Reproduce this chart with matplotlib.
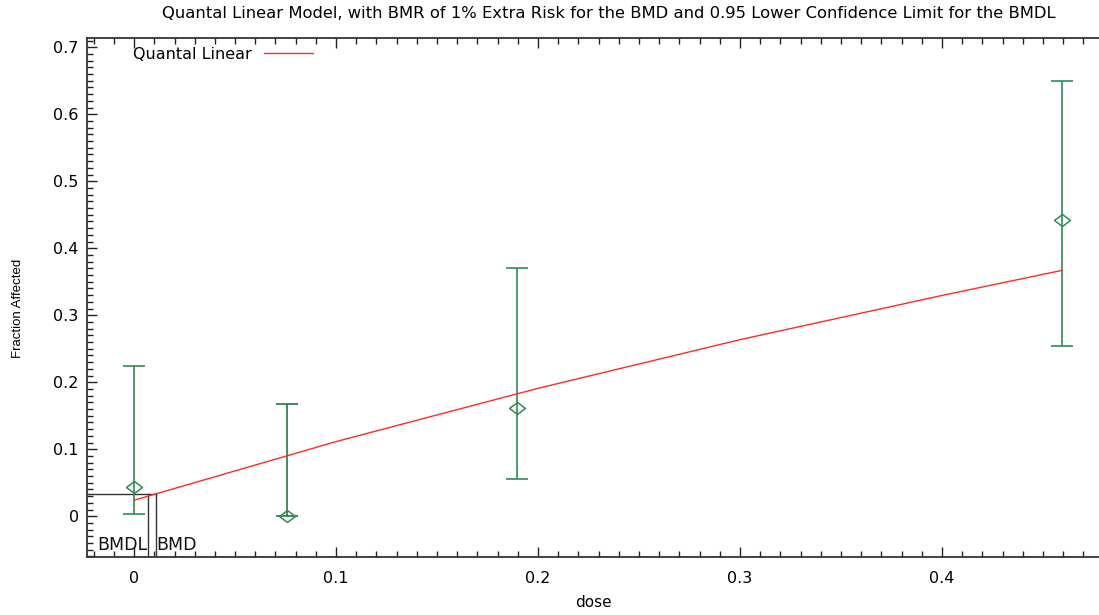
import matplotlib
matplotlib.use("Agg")
import matplotlib.pyplot as plt
from matplotlib.ticker import MultipleLocator, FixedLocator, FuncFormatter

doses = [0.0, 0.0757, 0.1895, 0.4594]
frac_affected = [0.043, 0.0, 0.162, 0.442]
ci_lower = [0.004, 0.0, 0.055, 0.254]
ci_upper = [0.225, 0.168, 0.371, 0.650]

# Fitted quantal linear model curve (read values)
model_dose = [0.0, 0.1, 0.2, 0.3, 0.4, 0.4594]
model_frac = [0.024, 0.1115, 0.191, 0.2636, 0.3296, 0.367]

# Benchmark dose markers
bmr_level = 0.034
bmd = 0.0107
bmdl = 0.0069

xticks = [0, 0.1, 0.2, 0.3, 0.4]
yticks = [0, 0.1, 0.2, 0.3, 0.4, 0.5, 0.6, 0.7]

fig = plt.figure(figsize=(10.99, 6.15), dpi=100)
ax = fig.add_axes([0.0792, 0.0935, 0.9208, 0.8455])
xmin, xmax = -0.0233, 0.4777
ymin, ymax = -0.0615, 0.7145
ax.set_xlim(xmin, xmax)
ax.set_ylim(ymin, ymax)

green = "#2e8b57"
dark_green = "#1c7a40"

# error bars
for i, d in enumerate(doses):
    col = dark_green if i == 1 else green
    ax.errorbar([d], [frac_affected[i]],
                yerr=[[max(frac_affected[i] - ci_lower[i], 0)], [ci_upper[i] - frac_affected[i]]],
                fmt="none", ecolor=col, elinewidth=1.2, capsize=8, capthick=1.2, zorder=3)
wide_diamond = [(-1, 0), (0, 0.75), (1, 0), (0, -0.75), (-1, 0)]
ax.plot(doses, frac_affected, linestyle="none", marker=wide_diamond, markersize=11.5,
        markerfacecolor="none", markeredgecolor=green, markeredgewidth=1.1, zorder=4)

# model line
ax.plot(model_dose, model_frac, color="#ff2a2a", linewidth=1.0, label="Quantal Linear", zorder=5)

# BMD / BMDL lines
bmd_col = "#333333"
ax.plot([xmin, bmd], [bmr_level, bmr_level], color=bmd_col, linewidth=1.0, zorder=2)
ax.plot([bmd, bmd], [ymin, bmr_level], color=bmd_col, linewidth=1.0, zorder=2)
ax.plot([bmdl, bmdl], [ymin, bmr_level], color=bmd_col, linewidth=1.0, zorder=2)
ax.text(bmdl - 0.0002, ymin + 0.0045, "BMDL", ha="right", va="bottom", fontsize=12.5, color="#111111")
ax.text(bmd + 0.0003, ymin + 0.0045, "BMD", ha="left", va="bottom", fontsize=12.5, color="#111111")

# ticks
ax.xaxis.set_major_locator(FixedLocator(xticks))
ax.yaxis.set_major_locator(FixedLocator(yticks))
ax.xaxis.set_minor_locator(MultipleLocator(0.01))
ax.yaxis.set_minor_locator(MultipleLocator(0.01))
fmt = FuncFormatter(lambda v, p: "0" if abs(v) < 1e-9 else f"{v:g}")
ax.xaxis.set_major_formatter(fmt)
ax.yaxis.set_major_formatter(fmt)
ax.tick_params(axis="both", which="major", direction="in", length=7, width=1.0,
               labelsize=11.5, top=True, right=False, color="#222222")
ax.tick_params(axis="both", which="minor", direction="in", length=4, width=1.0,
               top=True, right=False, color="#222222")
ax.tick_params(axis="x", which="major", pad=10)
ax.tick_params(axis="y", which="major", pad=6)

for s in ["left", "bottom", "top"]:
    ax.spines[s].set_linewidth(1.3)
    ax.spines[s].set_color("#333333")
ax.spines["right"].set_visible(False)

ax.set_xlabel("dose", fontsize=11, labelpad=6)
fig.text(18 / 1099, 1 - 308 / 615, "Fraction Affected", rotation=90, ha="center", va="center",
         fontsize=9.5, family=["Liberation Sans Narrow", "Liberation Sans", "DejaVu Sans"])
fig.text(609 / 1099, 1 - 14 / 615,
         "Quantal Linear Model, with BMR of 1% Extra Risk for the BMD and 0.95 Lower Confidence Limit for the BMDL",
         ha="center", va="center", fontsize=11.8)

ax.legend(loc="upper left", bbox_to_anchor=(0.031, 1.01), frameon=False, markerfirst=False,
          handlelength=3.1, fontsize=11.5, handletextpad=0.75)

fig.savefig("out.png", dpi=100)
